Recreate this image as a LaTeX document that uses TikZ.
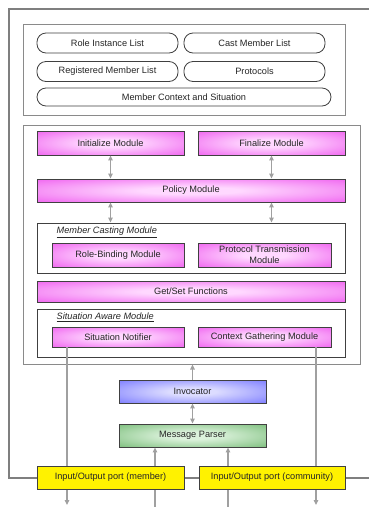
\documentclass[tikz,border=0pt]{standalone}
\usepackage{fontspec}
\setmainfont{Liberation Sans}
\usetikzlibrary{arrows.meta}
\definecolor{framegray}{HTML}{7F7F7F}
\definecolor{boxgray}{HTML}{8A8A8A}
\definecolor{edgegray}{HTML}{404040}
\definecolor{wiregray}{HTML}{A0A0A0}
\definecolor{pinkout}{HTML}{EE55EE}
\definecolor{pinkin}{HTML}{FFD8FF}
\definecolor{blueout}{HTML}{7070FF}
\definecolor{bluein}{HTML}{DCDCFF}
\definecolor{greenout}{HTML}{70B870}
\definecolor{greenin}{HTML}{DCF2DC}
\definecolor{txt}{HTML}{262626}
% soft elliptical glow: light centre, saturated rim
\pgfdeclareradialshading[pinkin,pinkout]{pinkglow}{\pgfpoint{0bp}{0bp}}{color(0bp)=(pinkin); color(8bp)=(pinkin); color(40bp)=(pinkout); color(72bp)=(pinkout)}
\pgfdeclareradialshading[bluein,blueout]{blueglow}{\pgfpoint{0bp}{0bp}}{color(0bp)=(bluein); color(8bp)=(bluein); color(40bp)=(blueout); color(72bp)=(blueout)}
\pgfdeclareradialshading[greenin,greenout]{greenglow}{\pgfpoint{0bp}{0bp}}{color(0bp)=(greenin); color(8bp)=(greenin); color(40bp)=(greenout); color(72bp)=(greenout)}
\tikzset{
  x=1pt, y=-1pt,
  every node/.style={font=\fontsize{9.2}{11}\selectfont, text=txt, inner sep=0pt, align=center},
  container/.style={draw=boxgray, line width=1pt, fill=white},
  inner container/.style={draw=edgegray, line width=0.9pt, fill=white},
  pill/.style={draw=edgegray, line width=0.8pt, rounded corners=9pt, fill=white},
  module/.style={draw=edgegray, line width=0.9pt, shading=pinkglow},
  invoke box/.style={draw=edgegray, line width=0.9pt, shading=blueglow},
  parse box/.style={draw=edgegray, line width=0.9pt, shading=greenglow},
  port/.style={draw=edgegray, line width=0.9pt, fill=yellow},
  caption/.style={anchor=west, font=\fontsize{9.2}{11}\selectfont\itshape},
  wire/.style={draw=wiregray, line width=1.1pt},
  tip/.style={-{Triangle[length=5pt,width=4.5pt]}},
  twotip/.style={{Triangle[length=5pt,width=4.5pt]}-{Triangle[length=5pt,width=4.5pt]}},
}
\begin{document}
\begin{tikzpicture}
\useasboundingbox (0,0) rectangle (369,507);
\fill[white] (0,0) rectangle (369,507);

% outer frame, open to the right
\draw[framegray, line width=2pt] (372,9) -- (8.5,9) -- (8.5,477.5) -- (372,477.5);

% data lists
\node[container, minimum width=322pt, minimum height=91pt] (lists) at (184,69.5) {};
\node[pill, minimum width=141pt, minimum height=20pt] (ril) at (107.5,43) {Role Instance List};
\node[pill, minimum width=141pt, minimum height=20pt] (cml) at (254.5,43) {Cast Member List};
\node[pill, minimum width=141pt, minimum height=20pt] (rml) at (107.5,71.5) {Registered Member List};
\node[pill, minimum width=141pt, minimum height=20pt] (prot) at (254.5,71.5) {Protocols};
\node[pill, minimum width=294pt, minimum height=18pt] (mcs) at (184,97) {Member Context and Situation};

% module container
\node[container, minimum width=337pt, minimum height=239pt] (core) at (191.5,244.5) {};

% free ends of the port wires
\coordinate (out1) at (67,505);
\coordinate (out2) at (316,505);
\coordinate (in1) at (155,507);
\coordinate (in2) at (228,507);

\node[module, minimum width=147pt, minimum height=24pt] (init) at (110.5,143) {Initialize Module};
\node[module, minimum width=147pt, minimum height=24pt] (fin) at (271.5,143) {Finalize Module};
\node[module, minimum width=308pt, minimum height=23pt] (policy) at (191,190.5) {Policy Module};

\node[inner container, minimum width=308pt, minimum height=50pt] (casting) at (191,248) {};
\node[caption] (castlabel) at (56.5,232.5) {\underline{Member Casting Module}};
\node[module, minimum width=132pt, minimum height=24pt] (bind) at (118,255) {Role-Binding Module};
\node[module, minimum width=133pt, minimum height=24pt] (trans) at (264.5,255) {Protocol Transmission\\Module};

\node[module, minimum width=308pt, minimum height=21pt] (getset) at (191,291.5) {Get/Set Functions};

\node[inner container, minimum width=308pt, minimum height=48pt] (aware) at (191,333) {};
\node[caption] (awarelabel) at (56.5,317.5) {\underline{Situation Aware Module}};
\node[module, minimum width=132pt, minimum height=20pt] (notif) at (118,337) {Situation Notifier};
\node[module, minimum width=133pt, minimum height=20pt] (gather) at (264.5,337) {Context Gathering Module};

% wires leaving the module container
\draw[wire, tip] (notif.south -| out1) -- (out1);
\draw[wire, tip] (gather.south -| out2) -- (out2);

\node[invoke box, minimum width=147pt, minimum height=23pt] (invoc) at (192.5,391.5) {Invocator};
\node[parse box, minimum width=147pt, minimum height=23pt] (parser) at (192.5,435.5) {Message Parser};

\draw[wire, tip] (in1) -- (parser.south -| in1);
\draw[wire, tip] (in2) -- (parser.south -| in2);

\node[port, minimum width=147pt, minimum height=23pt] (pmem) at (110.5,477.5) {Input/Output port (member)};
\node[port, minimum width=146pt, minimum height=23pt] (pcom) at (272,477.5) {Input/Output port (community)};

% links between modules
\draw[wire, twotip] (init.south) -- (init.south |- policy.north);
\draw[wire, twotip] (fin.south) -- (fin.south |- policy.north);
\draw[wire, twotip] (policy.south -| init.south) -- (casting.north -| init.south);
\draw[wire, twotip] (policy.south -| fin.south) -- (casting.north -| fin.south);
\draw[wire, tip] (invoc.north) -- (core.south -| invoc.north);
\draw[wire, twotip] (invoc.south) -- (parser.north);
\end{tikzpicture}
\end{document}
